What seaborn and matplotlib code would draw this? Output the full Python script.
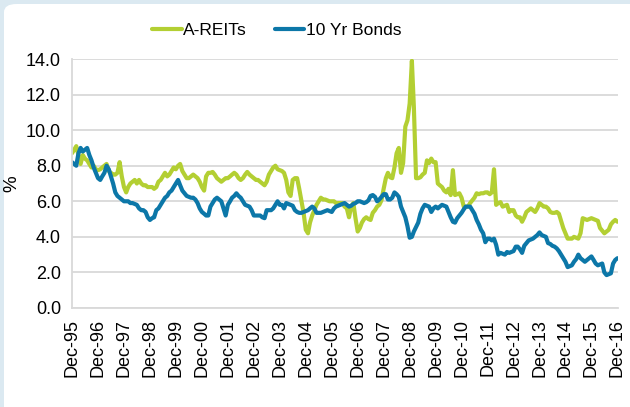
import pandas as pd
import matplotlib
matplotlib.use("Agg")
import matplotlib.pyplot as plt
import matplotlib.dates as mdates
from matplotlib.patches import FancyBboxPatch
import seaborn as sns

# monthly yields (%), Dec-95 .. Dec-16
areits = [8.7,
          8.9, 9.1, 8.6, 8.1, 8.6, 8.4, 8.3, 8.1, 7.9, 8.0, 7.8, 7.75,       # 1996
          7.8, 7.9, 8.0, 8.1, 7.7, 7.6, 7.5, 7.5, 7.6, 8.2, 7.4, 6.8,        # 1997
          6.5, 6.8, 7.0, 7.1, 7.2, 7.0, 7.2, 7.0, 6.9, 6.9, 6.8, 6.8,        # 1998
          6.8, 6.7, 6.8, 7.1, 7.2, 7.4, 7.6, 7.4, 7.5, 7.7, 7.9, 7.8,        # 1999
          8.0, 8.1, 7.7, 7.5, 7.3, 7.3, 7.4, 7.5, 7.4, 7.3, 7.1, 6.8,        # 2000
          6.6, 7.4, 7.6, 7.6, 7.65, 7.5, 7.3, 7.2, 7.1, 7.2, 7.3, 7.3,       # 2001
          7.4, 7.5, 7.6, 7.5, 7.3, 7.2, 7.3, 7.5, 7.65, 7.5, 7.4, 7.3,       # 2002
          7.2, 7.2, 7.1, 7.0, 6.9, 7.1, 7.5, 7.7, 7.9, 8.0, 7.8, 7.75,       # 2003
          7.7, 7.6, 7.2, 6.5, 6.3, 7.2, 7.3, 7.3, 6.7, 6.0, 5.35, 4.4,       # 2004
          4.2, 4.8, 5.2, 5.5, 5.8, 6.0, 6.2, 6.1, 6.1, 6.05, 6.0, 6.0,       # 2005
          6.0, 5.9, 5.9, 5.9, 5.9, 5.7, 5.6, 5.1, 5.7, 5.9, 5.05, 4.3,       # 2006
          4.5, 4.8, 5.0, 5.1, 5.0, 4.95, 5.35, 5.5, 5.7, 5.8, 6.05, 6.7,     # 2007
          7.3, 7.6, 7.35, 7.3, 7.9, 8.7, 9.0, 7.6, 8.15, 10.2, 10.55, 11.5,  # 2008
          13.9, 11.3, 7.3, 7.3, 7.35, 7.5, 7.6, 8.3, 8.15, 8.4, 8.2, 8.2,    # 2009
          7.0, 6.9, 6.8, 6.6, 6.5, 6.7, 6.35, 7.75, 6.35, 6.4, 6.45, 6.2,    # 2010
          5.7, 5.7, 5.7, 5.9, 6.05, 6.2, 6.45, 6.4, 6.45, 6.45, 6.5, 6.5,    # 2011
          6.4, 6.5, 7.8, 5.8, 5.9, 5.95, 5.7, 5.75, 5.8, 5.4, 5.5, 5.5,      # 2012
          5.2, 5.1, 5.1, 4.85, 5.1, 5.4, 5.5, 5.6, 5.5, 5.4, 5.6, 5.9,       # 2013
          5.8, 5.7, 5.7, 5.6, 5.4, 5.35, 5.35, 5.4, 5.3, 4.9, 4.5, 4.2,      # 2014
          3.9, 3.9, 3.9, 4.0, 3.95, 3.9, 4.2, 5.05, 5.0, 4.95, 5.0, 5.05,    # 2015
          5.0, 4.95, 4.9, 4.5, 4.35, 4.2, 4.3, 4.4, 4.7, 4.85, 4.95, 4.85]   # 2016

bonds = [8.2,
         8.1, 8.0, 8.7, 9.0, 8.8, 8.9, 9.0, 8.6, 8.3, 7.9, 7.6, 7.3,         # 1996
         7.2, 7.4, 7.6, 8.0, 7.8, 7.4, 7.0, 6.5, 6.3, 6.2, 6.1, 6.0,         # 1997
         6.0, 6.0, 5.9, 5.9, 5.85, 5.8, 5.6, 5.5, 5.5, 5.4, 5.1, 4.95,       # 1998
         5.05, 5.1, 5.5, 5.6, 5.8, 6.0, 6.2, 6.3, 6.5, 6.6, 6.8, 7.0,        # 1999
         7.2, 6.9, 6.6, 6.45, 6.3, 6.25, 6.2, 6.2, 6.1, 5.9, 5.6, 5.4,       # 2000
         5.3, 5.2, 5.2, 5.7, 5.9, 6.1, 6.2, 6.1, 6.0, 5.6, 5.2, 5.8,         # 2001
         6.0, 6.2, 6.3, 6.45, 6.3, 6.2, 6.0, 5.8, 5.75, 5.7, 5.5, 5.2,       # 2002
         5.2, 5.2, 5.2, 5.1, 5.05, 5.5, 5.5, 5.5, 5.6, 5.8, 6.0, 5.8,        # 2003
         5.8, 5.6, 5.9, 5.85, 5.8, 5.75, 5.5, 5.4, 5.35, 5.35, 5.4, 5.45,    # 2004
         5.5, 5.6, 5.7, 5.6, 5.35, 5.35, 5.35, 5.4, 5.45, 5.5, 5.45, 5.4,    # 2005
         5.6, 5.7, 5.75, 5.8, 5.85, 5.9, 5.8, 5.7, 5.75, 5.85, 5.9, 6.0,     # 2006
         6.0, 5.95, 5.9, 5.95, 6.05, 6.3, 6.35, 6.25, 6.0, 6.1, 6.25, 6.4,   # 2007
         6.4, 6.1, 6.1, 6.2, 6.5, 6.4, 6.25, 5.7, 5.4, 5.1, 4.6, 3.95,       # 2008
         4.0, 4.3, 4.55, 4.8, 5.3, 5.6, 5.8, 5.75, 5.7, 5.4, 5.6, 5.7,       # 2009
         5.6, 5.7, 5.8, 5.75, 5.7, 5.4, 5.1, 4.85, 4.8, 5.05, 5.2, 5.35,     # 2010
         5.55, 5.7, 5.7, 5.7, 5.5, 5.3, 4.95, 4.7, 4.4, 4.2, 3.7, 3.9,       # 2011
         3.9, 3.8, 3.9, 3.55, 3.0, 3.1, 3.05, 3.0, 3.15, 3.1, 3.15, 3.2,     # 2012
         3.45, 3.45, 3.3, 3.1, 3.5, 3.65, 3.8, 3.85, 3.9, 4.0, 4.1, 4.25,    # 2013
         4.1, 4.05, 4.0, 3.65, 3.6, 3.5, 3.45, 3.35, 3.2, 3.0, 2.8, 2.6,     # 2014
         2.3, 2.35, 2.4, 2.6, 2.75, 3.0, 2.8, 2.7, 2.6, 2.7, 2.8, 2.9,       # 2015
         2.7, 2.5, 2.4, 2.45, 2.5, 2.0, 1.85, 1.9, 1.95, 2.5, 2.7, 2.8]      # 2016

dates = pd.date_range("1995-12-31", "2016-12-31", freq="ME")
series_names = ["A-REITs", "10 Yr Bonds"]
colors = ["#b3cf33", "#0c77a8"]
yticks = [0, 2, 4, 6, 8, 10, 12, 14]

df = pd.DataFrame({"date": dates, "A-REITs": areits, "10 Yr Bonds": bonds})
long_df = df.melt(id_vars="date", var_name="series", value_name="yield")

sns.set_style("white")
plt.rcParams["font.family"] = ["Liberation Sans", "DejaVu Sans"]
plt.rcParams["text.color"] = "black"

fig = plt.figure(figsize=(6.3, 4.07), dpi=100)
fig.patch.set_facecolor("#dbe9f1")
W, H = 630, 407
fig.patches.append(FancyBboxPatch((4 / W, -0.05), 1.1, 1.05 - 4 / H,
                                  boxstyle="round,pad=0,rounding_size=0.02",
                                  transform=fig.transFigure, facecolor="white",
                                  edgecolor="none", zorder=-5))

ax = fig.add_axes([72 / W, 1 - 308 / H, (618 - 72) / W, (308 - 59) / H])
ax.set_facecolor("none")

sns.lineplot(data=long_df, x="date", y="yield", hue="series",
             hue_order=series_names, palette=colors, linewidth=3.0, ax=ax)

ax.set_ylim(0, 14)
ax.set_yticks(yticks)
ax.set_yticklabels([f"{v:.1f}" for v in yticks], fontsize=13)
ax.set_xlim(dates[0], dates[-1] + pd.Timedelta(days=8))
dec_ticks = pd.date_range("1995-12-31", "2016-12-31", freq="12ME")
ax.set_xticks(dec_ticks)
ax.xaxis.set_major_formatter(mdates.DateFormatter("%b-%y"))
plt.setp(ax.get_xticklabels(), rotation=90, fontsize=13)

ax.grid(axis="y", color="#d9d9d9", linewidth=1.3)
ax.grid(axis="x", visible=False)
for s in ["top", "right"]:
    ax.spines[s].set_visible(False)
for s in ["left", "bottom"]:
    ax.spines[s].set_color("#d9d9d9")
    ax.spines[s].set_linewidth(1.3)
ax.tick_params(axis="x", direction="out", length=5, width=1.2, color="#d9d9d9",
               pad=3, labelcolor="black")
ax.tick_params(axis="y", length=0, pad=8, labelcolor="black")
ax.set_xlabel("")
ax.set_ylabel("%", fontsize=13.5, labelpad=4, color="black")

handles, labels = ax.get_legend_handles_labels()
ax.get_legend().remove()
fig.legend(handles, labels, loc="center left", bbox_to_anchor=(152 / W, 1 - 30 / H),
           ncol=2, frameon=False, fontsize=12.5, handlelength=1.7,
           handletextpad=0.1, columnspacing=1.6, borderpad=0, borderaxespad=0)

fig.savefig("out.png", dpi=100)
